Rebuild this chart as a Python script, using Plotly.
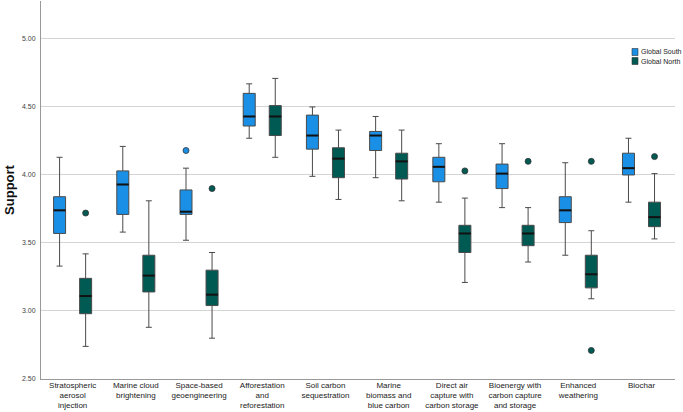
import numpy as np
import plotly.graph_objects as go

categories = [
    "Stratospheric<br>aerosol<br>injection",
    "Marine cloud<br>brightening",
    "Space-based<br>geoengineering",
    "Afforestation<br>and<br>reforestation",
    "Soil carbon<br>sequestration",
    "Marine<br>biomass and<br>blue carbon",
    "Direct air<br>capture with<br>carbon storage",
    "Bioenergy with<br>carbon capture<br>and storage",
    "Enhanced<br>weathering",
    "Biochar",
]

# Global South
gs_low = [3.33, 3.58, 3.52, 4.27, 3.99, 3.98, 3.80, 3.76, 3.41, 3.80]
gs_q1 = [3.57, 3.71, 3.71, 4.36, 4.19, 4.18, 3.95, 3.90, 3.65, 4.00]
gs_med = [3.74, 3.93, 3.73, 4.43, 4.29, 4.29, 4.06, 4.01, 3.74, 4.05]
gs_q3 = [3.84, 4.03, 3.89, 4.60, 4.44, 4.32, 4.13, 4.08, 3.84, 4.16]
gs_high = [4.13, 4.21, 4.05, 4.67, 4.50, 4.43, 4.23, 4.23, 4.09, 4.27]
gs_out_cat = [2]
gs_out_val = [4.18]

# Global North
gn_low = [2.74, 2.88, 2.80, 4.13, 3.82, 3.81, 3.21, 3.36, 3.09, 3.53]
gn_q1 = [2.98, 3.14, 3.04, 4.29, 3.98, 3.97, 3.43, 3.48, 3.17, 3.62]
gn_med = [3.11, 3.26, 3.12, 4.43, 4.12, 4.10, 3.57, 3.57, 3.27, 3.69]
gn_q3 = [3.24, 3.41, 3.30, 4.51, 4.20, 4.16, 3.63, 3.63, 3.41, 3.80]
gn_high = [3.42, 3.81, 3.43, 4.71, 4.33, 4.33, 3.83, 3.76, 3.59, 4.01]
gn_out_cat = [0, 2, 6, 7, 8, 8, 9]
gn_out_val = [3.72, 3.90, 4.03, 4.10, 4.10, 2.71, 4.135]

series_names = ["Global South", "Global North"]
y_ticks = [2.5, 3.0, 3.5, 4.0, 4.5, 5.0]

GS_COLOR = "#1A8FE6"
GN_COLOR = "#005A54"
OFFSET = 0.206
BOX_W = 0.19

idx = np.arange(len(categories))
gs_x = idx - OFFSET
gn_x = idx + OFFSET

fig = go.Figure()

for name, xs, lo, q1, md, q3, hi, col in [
    (series_names[0], gs_x, gs_low, gs_q1, gs_med, gs_q3, gs_high, GS_COLOR),
    (series_names[1], gn_x, gn_low, gn_q1, gn_med, gn_q3, gn_high, GN_COLOR),
]:
    fig.add_trace(go.Box(
        x=xs, q1=q1, median=md, q3=q3, lowerfence=lo, upperfence=hi,
        width=BOX_W, whiskerwidth=0.5, boxpoints=False,
        fillcolor=col, line=dict(color="#4a4a4a", width=1),
        name=name, showlegend=False, hoverinfo="skip",
    ))
    mx, my = [], []
    for x, m in zip(xs, md):
        mx += [x - BOX_W / 2, x + BOX_W / 2, None]
        my += [m, m, None]
    fig.add_trace(go.Scatter(x=mx, y=my, mode="lines",
                             line=dict(color="#111111", width=2),
                             showlegend=False, hoverinfo="skip"))

fig.add_trace(go.Scatter(
    x=[i - OFFSET for i in gs_out_cat], y=gs_out_val, mode="markers",
    marker=dict(size=6, color=GS_COLOR, line=dict(color="#333", width=0.8)),
    showlegend=False, hoverinfo="skip"))
fig.add_trace(go.Scatter(
    x=[i + OFFSET for i in gn_out_cat], y=gn_out_val, mode="markers",
    marker=dict(size=6, color=GN_COLOR, line=dict(color="#333", width=0.8)),
    showlegend=False, hoverinfo="skip"))

# manual legend (small squares + labels), placed in paper coordinates
PLOT_W, PLOT_H = 634, 378
leg_x = (632 - 41) / PLOT_W
sq_w = 6 / PLOT_W
sq_h = 7 / PLOT_H
for k, (name, col) in enumerate(zip(series_names, [GS_COLOR, GN_COLOR])):
    yc = (379 - (52 + 9 * k)) / PLOT_H
    fig.add_shape(type="rect", xref="paper", yref="paper",
                  x0=leg_x, x1=leg_x + sq_w, y0=yc - sq_h / 2, y1=yc + sq_h / 2,
                  fillcolor=col, line=dict(color="#333", width=0.6))
    fig.add_annotation(xref="paper", yref="paper", x=leg_x + sq_w + 1 / PLOT_W, y=yc,
                       text=name, showarrow=False, xanchor="left", yanchor="middle",
                       font=dict(size=7, color="#222"))

FONT = "Arial, Liberation Sans, sans-serif"

fig.update_layout(
    width=683, height=412,
    margin=dict(l=41, r=8, t=1, b=33),
    paper_bgcolor="white", plot_bgcolor="white",
    font=dict(family=FONT, color="#222"),
    showlegend=False,
    xaxis=dict(
        range=[-0.5, 9.53], tickmode="array", tickvals=idx.tolist(),
        ticktext=categories, tickfont=dict(size=8, color="#222"),
        showgrid=False, zeroline=False, showline=True,
        linecolor="#999", linewidth=1, ticks="", tickangle=0,
        ticklabelstandoff=-2,
        automargin=False,
    ),
    yaxis=dict(
        range=[2.5, 5.279], tickmode="array", tickvals=y_ticks,
        ticktext=[f"{v:.2f}" for v in y_ticks],
        tickfont=dict(size=7, color="#444"),
        showgrid=True, gridcolor="#d4d4d4", gridwidth=1,
        zeroline=False, showline=True, linecolor="#999", linewidth=1,
        ticks="", ticklabelstandoff=3,
        title=dict(text="<b>Support</b>", font=dict(size=13, color="#111"), standoff=4),
        automargin=False,
    ),
)

fig.write_html("out.html", config={"displayModeBar": False},
               post_script="document.body.style.margin='0';")
